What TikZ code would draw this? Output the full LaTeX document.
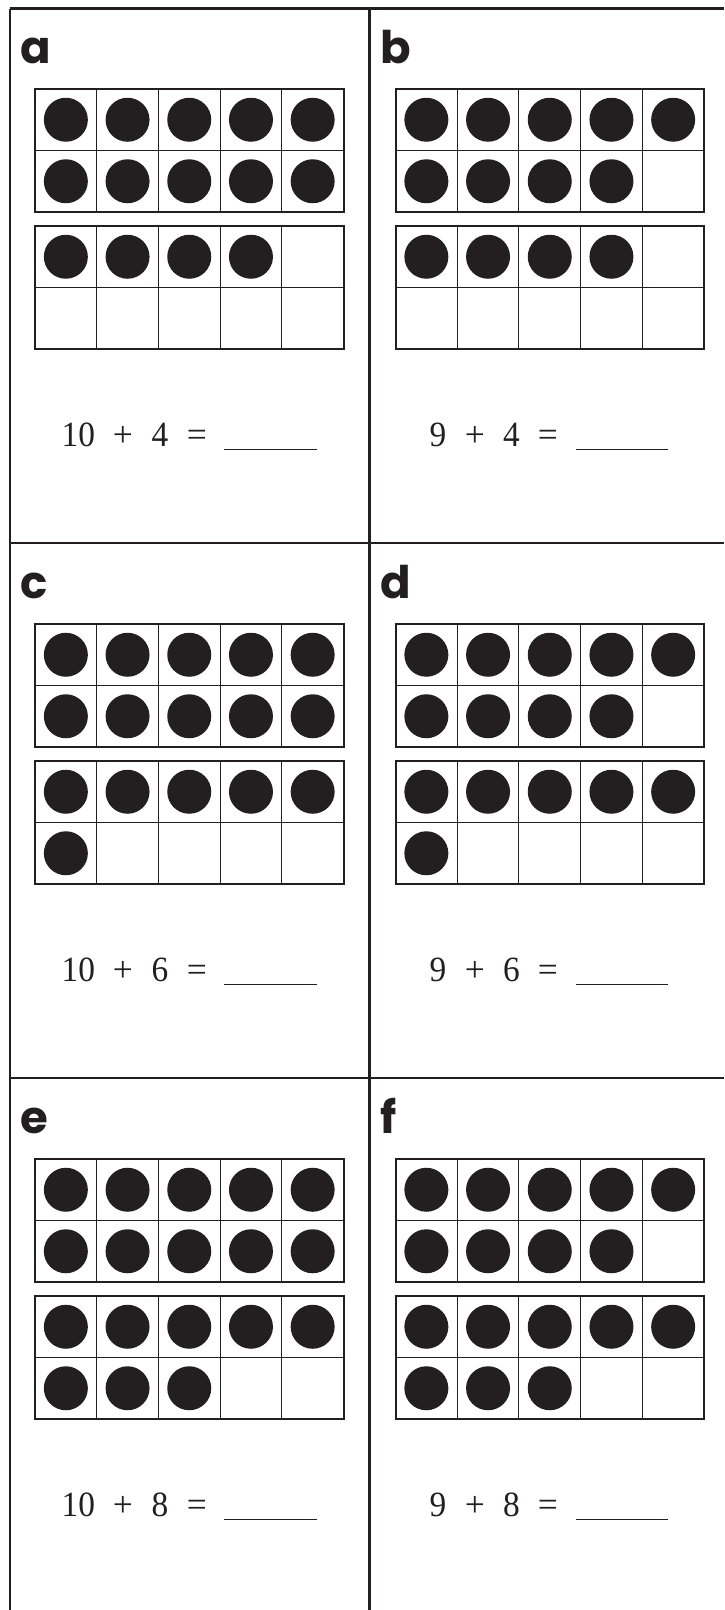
\documentclass[tikz,border=0pt]{standalone}
\usepackage{graphicx}
\usepackage{fontspec}
\newfontfamily\labfont{Poppins}
\newfontfamily\eqfont{Liberation Serif}
\definecolor{ink}{HTML}{231F20}
\tikzset{
  frameline/.style={draw=ink, line width=2.2pt},
  outerbox/.style={draw=ink, line width=2pt},
  innerline/.style={draw=ink, line width=1pt},
  blank/.style={draw=ink, line width=1.5pt},
  lab/.style={anchor=base west, inner sep=0pt, text=ink,
    font=\labfont\bfseries\fontsize{45}{45}\selectfont},
  eqtok/.style={anchor=base, inner sep=0pt, text=ink,
    font=\eqfont\fontsize{35.5}{35.5}\selectfont},
}
% ten-frame: #1 left x, #2 top y, #3 number of dots
\newcommand\tenframe[3]{%
  \foreach \k in {0,...,9}{%
    \pgfmathtruncatemacro\cc{mod(\k,5)}%
    \pgfmathtruncatemacro\rr{int(\k/5)}%
    \ifnum\k<#3\relax
      \fill[ink] ({#1+30.85+61.7*\cc},{#2+30.75+61.5*\rr}) circle[radius=22];
    \fi
  }%
  \foreach \i in {1,...,4}{%
    \draw[innerline] ({#1+61.7*\i},#2) -- ({#1+61.7*\i},{#2+123});
  }%
  \draw[innerline] (#1,{#2+61.5}) -- ({#1+308.5},{#2+61.5});
  \draw[outerbox] (#1,#2) rectangle ({#1+308.5},{#2+123});
}
% panel: #1 col offset, #2 row offset, #3 label, #4 dots frame1, #5 dots frame2, #6 name
\newcommand\panel[6]{%
  \node[lab] (lab#6) at ({20+#1},{63+#2}) {#3};
  \tenframe{35+#1}{89+#2}{#4}
  \tenframe{35+#1}{226+#2}{#5}
}
% equation left column: #1 row offset, #2 second addend, #3 name
\newcommand\eqleft[3]{%
  \node[eqtok] (#3a) at (78.3,{446.7+#1}) {\scalebox{0.94}[1]{10}};
  \node[eqtok] (#3p) at (123,{446.7+#1}) {+};
  \node[eqtok] (#3b) at (160,{446.7+#1}) {\scalebox{0.94}[1]{#2}};
  \node[eqtok] (#3e) at (197,{446.7+#1}) {=};
  \coordinate (#3u1) at (224,{449.5+#1});
  \coordinate (#3u2) at (317,{449.5+#1});
  \draw[blank] (#3u1) -- (#3u2);
}
\newcommand\eqright[3]{%
  \node[eqtok] (#3a) at (438,{446.7+#1}) {\scalebox{0.94}[1]{9}};
  \node[eqtok] (#3p) at (475,{446.7+#1}) {+};
  \node[eqtok] (#3b) at (511.5,{446.7+#1}) {\scalebox{0.94}[1]{#2}};
  \node[eqtok] (#3e) at (548,{446.7+#1}) {=};
  \coordinate (#3u1) at (576,{449.5+#1});
  \coordinate (#3u2) at (668,{449.5+#1});
  \draw[blank] (#3u1) -- (#3u2);
}
\begin{document}
\begin{tikzpicture}[x=1pt,y=-1pt]
  \useasboundingbox (0,0) rectangle (724,1610);
  \fill[white] (0,0) rectangle (724,1610);
  % grid of the page
  \coordinate (tl) at (9.7,8.5);
  \coordinate (tr) at (724,8.5);
  \coordinate (m1l) at (9.7,543.3);
  \coordinate (m1r) at (724,543.3);
  \coordinate (m2l) at (9.7,1078.3);
  \coordinate (m2r) at (724,1078.3);
  \coordinate (bl) at (9.7,1610);
  \coordinate (dt) at (369.5,8.5);
  \coordinate (db) at (369.5,1610);
  \draw[frameline] (tl) -- (tr);
  \draw[frameline] (m1l) -- (m1r);
  \draw[frameline] (m2l) -- (m2r);
  \draw[frameline] (tl) -- (bl);
  \draw[frameline] (dt) -- (db);
  % panels
  \panel{0}{0}{a}{10}{4}{A}
  \panel{360.5}{0}{b}{9}{4}{B}
  \panel{0}{535}{c}{10}{6}{C}
  \panel{360.5}{535}{d}{9}{6}{D}
  \panel{0}{1070}{e}{10}{8}{E}
  \panel{360.5}{1070}{f}{9}{8}{F}
  % equations
  \eqleft{0}{4}{eqA}
  \eqright{0}{4}{eqB}
  \eqleft{535}{6}{eqC}
  \eqright{535}{6}{eqD}
  \eqleft{1070}{8}{eqE}
  \eqright{1070}{8}{eqF}
\end{tikzpicture}
\end{document}
